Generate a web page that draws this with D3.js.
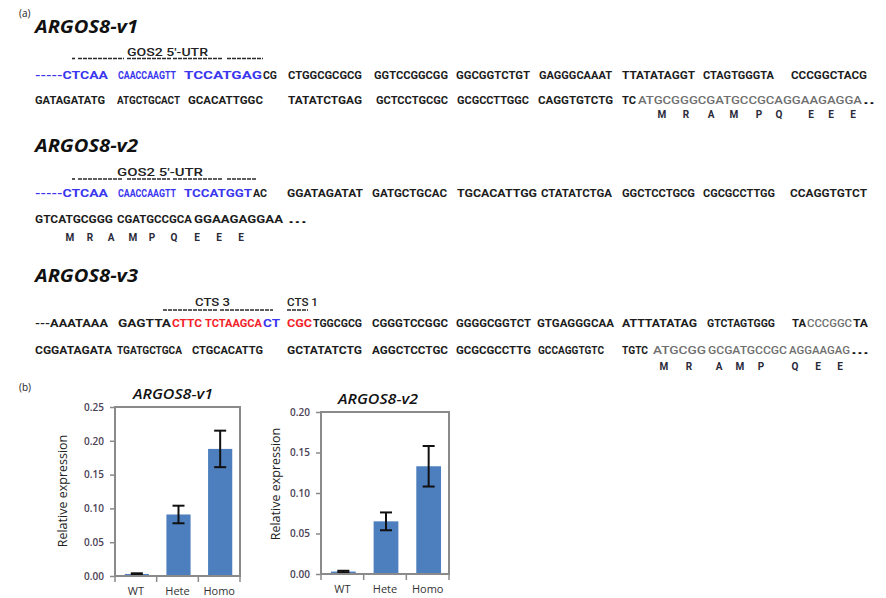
<!DOCTYPE html>
<html><head><meta charset="utf-8">
<script src="https://cdn.jsdelivr.net/npm/d3@7"></script>
<style>body{margin:0;background:#fff}svg{display:block}</style>
</head><body><svg id="fig" width="886" height="598"></svg>
<script>
// ---- expression data (relative expression, mean and error) ----
const categories = ["WT", "Hete", "Homo"];
const v1Mean = [0.003, 0.091, 0.188];
const v1Err  = [0.001, 0.013, 0.027];
const v2Mean = [0.003, 0.065, 0.133];
const v2Err  = [0.001, 0.011, 0.025];
const v1Ticks = [0, 0.05, 0.10, 0.15, 0.20, 0.25];
const v2Ticks = [0, 0.05, 0.10, 0.15, 0.20];

// ---- sequences: [text, kind]  u = UTR (blue), n = plain, r = CTS (red), c = coding (grey), d = continuation ----
const seqV1a = [["-----CTCAA","u"],["CAACCAAGTT","u"],["TCCATGAG","u"],["CG","n"],["CTGGCGCGCG","n"],["GGTCCGGCGG","n"],["GGCGGTCTGT","n"],["GAGGGCAAAT","n"],["TTATATAGGT","n"],["CTAGTGGGTA","n"],["CCCGGCTACG","n"]];
const seqV1b = [["GATAGATATG","n"],["ATGCTGCACT","n"],["GCACATTGGC","n"],["TATATCTGAG","n"],["GCTCCTGCGC","n"],["GCGCCTTGGC","n"],["CAGGTGTCTG","n"],["TC","n"],["ATGCGGGCGATGCCGCAGGAAGAGGA","c"],["..","d"]];
const seqV2a = [["-----CTCAA","u"],["CAACCAAGTT","u"],["TCCATGGT","u"],["AC","n"],["GGATAGATAT","n"],["GATGCTGCAC","n"],["TGCACATTGG","n"],["CTATATCTGA","n"],["GGCTCCTGCG","n"],["CGCGCCTTGG","n"],["CCAGGTGTCT","n"]];
const seqV2b = [["GTCATGCGGG","n"],["CGATGCCGCA","n"],["GGAAGAGGAA","n"],["...","d"]];
const seqV3a = [["---AAATAAA","n"],["GAGTTA","n"],["CTTC","r"],["TCTAAGCA","r"],["CT","u"],["CGC","r"],["TGGCGCG","n"],["CGGGTCCGGC","n"],["GGGGCGGTCT","n"],["GTGAGGGCAA","n"],["ATTTATATAG","n"],["GTCTAGTGGG","n"],["TA","n"],["CCCGGC","c"],["TA","n"]];
const seqV3b = [["CGGATAGATA","n"],["TGATGCTGCA","n"],["CTGCACATTG","n"],["GCTATATCTG","n"],["AGGCTCCTGC","n"],["GCGCGCCTTG","n"],["GCCAGGTGTC","n"],["TGTC","n"],["ATGCGG","c"],["GCGATGCCGC","c"],["AGGAAGAG","c"],["...","d"]];
const protV1 = ["M","R","A","M","P","Q","E","E","E"];
const protV2 = ["M","R","A","M","P","Q","E","E","E"];
const protV3 = ["M","R","A","M","P","Q","E","E"];

// ---- text layout: horizontal span of each sequence block ----
const spanV1a = [[35,108],[118,176],[184,262],[263,277],[288,362],[374,448],[456,530],[539,612],[622,695],[703,774],[791,867]];
const spanV1b = [[35,105],[117,180],[188,263],[288,362],[376,448],[457,529],[538,613],[622,636],[638,862],[863,875]];
const spanV2a = [[35,108],[118,176],[184,252],[253,267],[287,363],[372,447],[457,537],[541,612],[622,695],[703,775],[790,867]];
const spanV2b = [[35,113],[117,192],[194,283],[288,307]];
const spanV3a = [[35,108],[118,171],[172,202],[205,262],[263,280],[287,312],[313,362],[372,448],[456,531],[537,614],[622,697],[707,775],[792,806],[807,852],[853,868]];
const spanV3b = [[35,112],[117,182],[192,263],[287,362],[372,448],[456,531],[538,604],[622,648],[653,706],[708,787],[789,850],[851,869]];
const protV1x = [662,686,711,734,759,779,811,831,853];
const protV2x = [70,90,111,133,152,174,197,219,241];
const protV3x = [664,689,719,740,761,795,818,840];

const COLORS = {u: "#3a36ee", n: "#1c1c1c", r: "#f2222a", c: "#6e6e6e", d: "#111"};
const FONT = "'Open Sans', 'Liberation Sans', sans-serif";
const SEQFONT = "Roboto, 'Liberation Sans', sans-serif";

const svg = d3.select("#fig");

function seqRow(seq, spans, yc) {
  svg.append("g").selectAll("text").data(seq).join("text")
    .attr("x", (d, i) => spans[i][0])
    .attr("y", yc + 4)
    .attr("textLength", (d, i) => spans[i][1] - spans[i][0])
    .attr("lengthAdjust", "spacingAndGlyphs")
    .attr("font-family", SEQFONT)
    .attr("font-size", d => d[1] === "d" ? 13 : 11)
    .attr("font-weight", d => d[1] === "c" ? 500 : 700)
    .attr("fill", d => COLORS[d[1]])
    .text(d => d[0]);
}

function protRow(aa, xs, yc) {
  svg.append("g").selectAll("text").data(aa).join("text")
    .attr("x", (d, i) => xs[i])
    .attr("y", yc + 4)
    .attr("text-anchor", "middle")
    .attr("font-family", SEQFONT)
    .attr("font-size", 10)
    .attr("font-weight", 700)
    .attr("fill", "#2a2a3a")
    .text(d => d);
}

function heading(txt, x, yBase, w) {
  svg.append("text")
    .attr("x", x).attr("y", yBase)
    .attr("textLength", w).attr("lengthAdjust", "spacingAndGlyphs")
    .attr("font-family", FONT).attr("font-size", 18)
    .attr("font-weight", 700).attr("font-style", "italic")
    .attr("fill", "#111").text(txt);
}

function siteLabel(txt, x0, x1, yc, segs, yl) {
  svg.append("text")
    .attr("x", x0).attr("y", yc + 4)
    .attr("textLength", x1 - x0).attr("lengthAdjust", "spacingAndGlyphs")
    .attr("font-family", SEQFONT).attr("font-size", 10.5).attr("font-weight", 500)
    .attr("fill", "#222").text(txt);
  svg.append("g").selectAll("line").data(segs).join("line")
    .attr("x1", d => d[0]).attr("x2", d => d[1])
    .attr("y1", yl).attr("y2", yl)
    .attr("stroke", "#2a2a2a").attr("stroke-width", 1.6)
    .attr("stroke-dasharray", "4,1");
}

// ---- panel (a) ----
svg.append("text").attr("x", 19).attr("y", 17)
  .attr("font-family", FONT).attr("font-size", 10).attr("fill", "#222").text("(a)");

heading("ARGOS8-v1", 35, 33, 103);
siteLabel("GOS2  5'-UTR", 127, 208, 52, [[72,75],[78,124],[127,171],[173,223],[227,263]], 58.5);
seqRow(seqV1a, spanV1a, 75);
seqRow(seqV1b, spanV1b, 100);
protRow(protV1, protV1x, 114);

heading("ARGOS8-v2", 35, 152, 103);
siteLabel("GOS2  5'-UTR", 117, 203, 172, [[72,75],[78,123],[127,170],[173,223],[227,257]], 179);
seqRow(seqV2a, spanV2a, 193);
seqRow(seqV2b, spanV2b, 219);
protRow(protV2, protV2x, 237);

heading("ARGOS8-v3", 35, 282, 103);
siteLabel("CTS 3", 195, 230, 302, [[163,218],[220,273]], 310);
siteLabel("CTS 1", 287, 318, 302, [[287,308]], 310);
seqRow(seqV3a, spanV3a, 323);
seqRow(seqV3b, spanV3b, 350);
protRow(protV3, protV3x, 366);

// ---- panel (b) ----
svg.append("text").attr("x", 19).attr("y", 391)
  .attr("font-family", FONT).attr("font-size", 10).attr("fill", "#222").text("(b)");

function barChart(cfg) {
  const g = svg.append("g");
  const x = d3.scaleBand().domain(categories).range([cfg.left, cfg.right]);
  const y = d3.scaleLinear().domain([0, d3.max(cfg.ticks)]).range([cfg.bottom, cfg.top]);
  const bw = x.bandwidth() * 0.58;
  const cx = c => x(c) + x.bandwidth() / 2 + 1;
  const rows = categories.map((c, i) => ({c, m: cfg.mean[i], e: cfg.err[i]}));

  // bars
  g.selectAll("rect.bar").data(rows).join("rect")
    .attr("class", "bar")
    .attr("x", d => cx(d.c) - bw / 2)
    .attr("width", bw)
    .attr("y", d => y(d.m))
    .attr("height", d => y(0) - y(d.m))
    .attr("fill", "#4d7ebd");

  // error bars
  const cap = 6;
  const eb = g.selectAll("g.err").data(rows).join("g").attr("class", "err")
    .attr("stroke", "#111").attr("stroke-width", 2);
  eb.append("line")
    .attr("x1", d => cx(d.c)).attr("x2", d => cx(d.c))
    .attr("y1", d => y(d.m + d.e)).attr("y2", d => y(d.m - d.e));
  eb.append("line")
    .attr("x1", d => cx(d.c) - cap).attr("x2", d => cx(d.c) + cap)
    .attr("y1", d => y(d.m + d.e)).attr("y2", d => y(d.m + d.e));
  eb.append("line")
    .attr("x1", d => cx(d.c) - cap).attr("x2", d => cx(d.c) + cap)
    .attr("y1", d => y(d.m - d.e)).attr("y2", d => y(d.m - d.e));

  // y axis
  const ya = g.append("g").attr("transform", `translate(${cfg.left},0)`)
    .call(d3.axisLeft(y).tickValues(cfg.ticks).tickFormat(d3.format(".2f")).tickSize(5).tickPadding(6));
  ya.select(".domain").remove();
  ya.selectAll(".tick line").attr("stroke", "#8a8a8a").attr("stroke-width", 1.5);
  ya.selectAll(".tick text").attr("font-family", FONT).attr("font-size", 10)
    .attr("font-weight", 600).attr("fill", "#4a4256");

  // x axis: category labels with ticks on band boundaries
  const xa = g.append("g").attr("transform", `translate(0,${cfg.bottom})`)
    .call(d3.axisBottom(x).tickSize(0).tickPadding(11));
  xa.select(".domain").remove();
  xa.selectAll(".tick text").attr("font-family", FONT).attr("font-size", 11)
    .attr("fill", "#333");
  const bounds = categories.map(c => x(c)).concat([x.range()[1]]);
  g.selectAll("line.xt").data(bounds).join("line").attr("class", "xt")
    .attr("x1", d => d).attr("x2", d => d)
    .attr("y1", cfg.bottom).attr("y2", cfg.bottom + 6)
    .attr("stroke", "#8a8a8a").attr("stroke-width", 1.5);

  // frame
  g.append("rect")
    .attr("x", cfg.left).attr("y", cfg.top)
    .attr("width", cfg.right - cfg.left).attr("height", cfg.bottom - cfg.top)
    .attr("fill", "none").attr("stroke", "#8a8a8a").attr("stroke-width", 2);

  // titles
  g.append("text")
    .attr("x", cfg.titleX).attr("y", cfg.top - 8)
    .attr("textLength", 80).attr("lengthAdjust", "spacingAndGlyphs")
    .attr("font-family", FONT).attr("font-size", 14).attr("font-style", "italic")
    .attr("font-weight", 600).attr("fill", "#111")
    .text(cfg.title);
  g.append("text")
    .attr("transform", `translate(${cfg.labelX},${cfg.labelY}) rotate(-90)`)
    .attr("text-anchor", "middle").attr("dy", "0.35em")
    .attr("font-family", FONT).attr("font-size", 12.5).attr("fill", "#222")
    .text("Relative expression");
}

barChart({title: "ARGOS8-v1", mean: v1Mean, err: v1Err, ticks: v1Ticks,
          left: 115, right: 240, top: 407, bottom: 576, labelX: 63, labelY: 491, titleX: 133});
barChart({title: "ARGOS8-v2", mean: v2Mean, err: v2Err, ticks: v2Ticks,
          left: 321, right: 449, top: 412, bottom: 574, labelX: 276, labelY: 484, titleX: 338});
</script>
</body></html>
